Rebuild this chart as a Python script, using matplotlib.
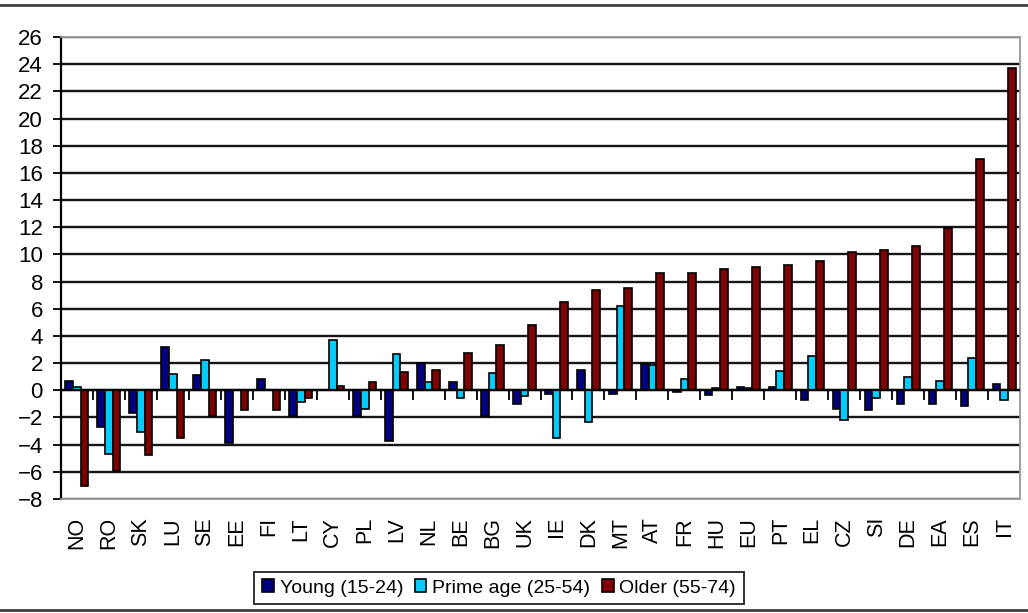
import numpy as np
import matplotlib.pyplot as plt
from matplotlib.lines import Line2D

# Data
countries = ["NO", "RO", "SK", "LU", "SE", "EE", "FI", "LT", "CY", "PL",
             "LV", "NL", "BE", "BG", "UK", "IE", "DK", "MT", "AT", "FR",
             "HU", "EU", "PT", "EL", "CZ", "SI", "DE", "EA", "ES", "IT"]
young = [0.7, -2.7, -1.7, 3.2, 1.1, -3.9, 0.8, -1.9, 0.0, -1.9,
         -3.7, 2.0, 0.6, -1.9, -1.0, -0.3, 1.5, -0.3, 1.95, -0.15,
         -0.35, 0.25, 0.25, -0.75, -1.4, -1.45, -1.0, -1.0, -1.15, 0.5]
prime = [0.27, -4.7, -3.1, 1.23, 2.2, 0.0, 0.0, -0.86, 3.7, -1.4,
         2.7, 0.6, -0.6, 1.3, -0.45, -3.5, -2.35, 6.2, 1.85, 0.8,
         0.15, 0.2, 1.4, 2.5, -2.15, -0.55, 0.95, 0.7, 2.35, -0.7]
older = [-7.05, -5.95, -4.75, -3.5, -1.9, -1.45, -1.45, -0.6, 0.35, 0.6,
         1.35, 1.5, 2.75, 3.3, 4.8, 6.5, 7.35, 7.5, 8.6, 8.6,
         8.9, 9.05, 9.2, 9.5, 10.15, 10.3, 10.6, 11.95, 17.0, 23.7]

series = [
    ("Young (15-24)", young, "#000080"),
    ("Prime age (25-54)", prime, "#00CCFF"),
    ("Older (55-74)", older, "#800000"),
]

ymin, ymax = -8, 26

fig = plt.figure(figsize=(10.28, 6.13), dpi=100)
plt.rcParams["font.family"] = ["Liberation Sans", "DejaVu Sans"]
ax = fig.add_axes([61 / 1028, 1 - 499 / 613, (1020 - 61) / 1028, (499 - 37) / 613])

x = np.arange(len(countries))
w = 0.24
for i, (label, vals, color) in enumerate(series):
    ax.bar(x + (i - 1) * w, vals, width=w, color=color, edgecolor="black",
           linewidth=1.2, label=label, zorder=3)

ax.set_xlim(-0.5, len(countries) - 0.5)
ax.set_ylim(ymin, ymax)
ax.set_yticks(np.arange(ymin, ymax + 1, 2))
ax.tick_params(axis="y", labelsize=16, length=6, width=1.3, pad=7, direction="out")
ax.set_xticks(x)
ax.set_xticklabels(countries, rotation=90, fontsize=15.5)
ax.tick_params(axis="x", length=0, pad=13)

ax.yaxis.grid(True, color="#151515", linewidth=1.7)
ax.set_axisbelow(True)
for side in ["top", "right", "bottom"]:
    ax.spines[side].set_color("#999999")
    ax.spines[side].set_linewidth(1.3)
ax.spines["left"].set_color("black")
ax.spines["left"].set_linewidth(1.6)

# zero line with category separators
ax.axhline(0, color="black", linewidth=1.6, zorder=4)
sec = ax.secondary_xaxis((0 - ymin) / (ymax - ymin))
sec.set_xticks(np.arange(0.5, len(countries) - 1, 1.0))
sec.set_xticklabels([])
sec.tick_params(axis="x", length=7, width=1.3, direction="out", color="black")
sec.spines["bottom"].set_visible(False)

leg = ax.legend(loc="center", bbox_to_anchor=(499 / 1028, 1 - 588 / 613),
                bbox_transform=fig.transFigure, ncol=3, fontsize=14,
                frameon=True, fancybox=False, handlelength=0.6, handleheight=0.6,
                handletextpad=0.3, columnspacing=0.6, borderpad=0.4,
                borderaxespad=0)
leg.get_frame().set_edgecolor("black")
leg.get_frame().set_linewidth(1.4)

# page border lines
fig.add_artist(Line2D([0, 1], [1 - 5 / 613, 1 - 5 / 613], color="#404040",
                      linewidth=2, transform=fig.transFigure))
fig.add_artist(Line2D([0, 1], [1 - 610 / 613, 1 - 610 / 613], color="#404040",
                      linewidth=2, transform=fig.transFigure))

fig.savefig("out.png", dpi=100)
